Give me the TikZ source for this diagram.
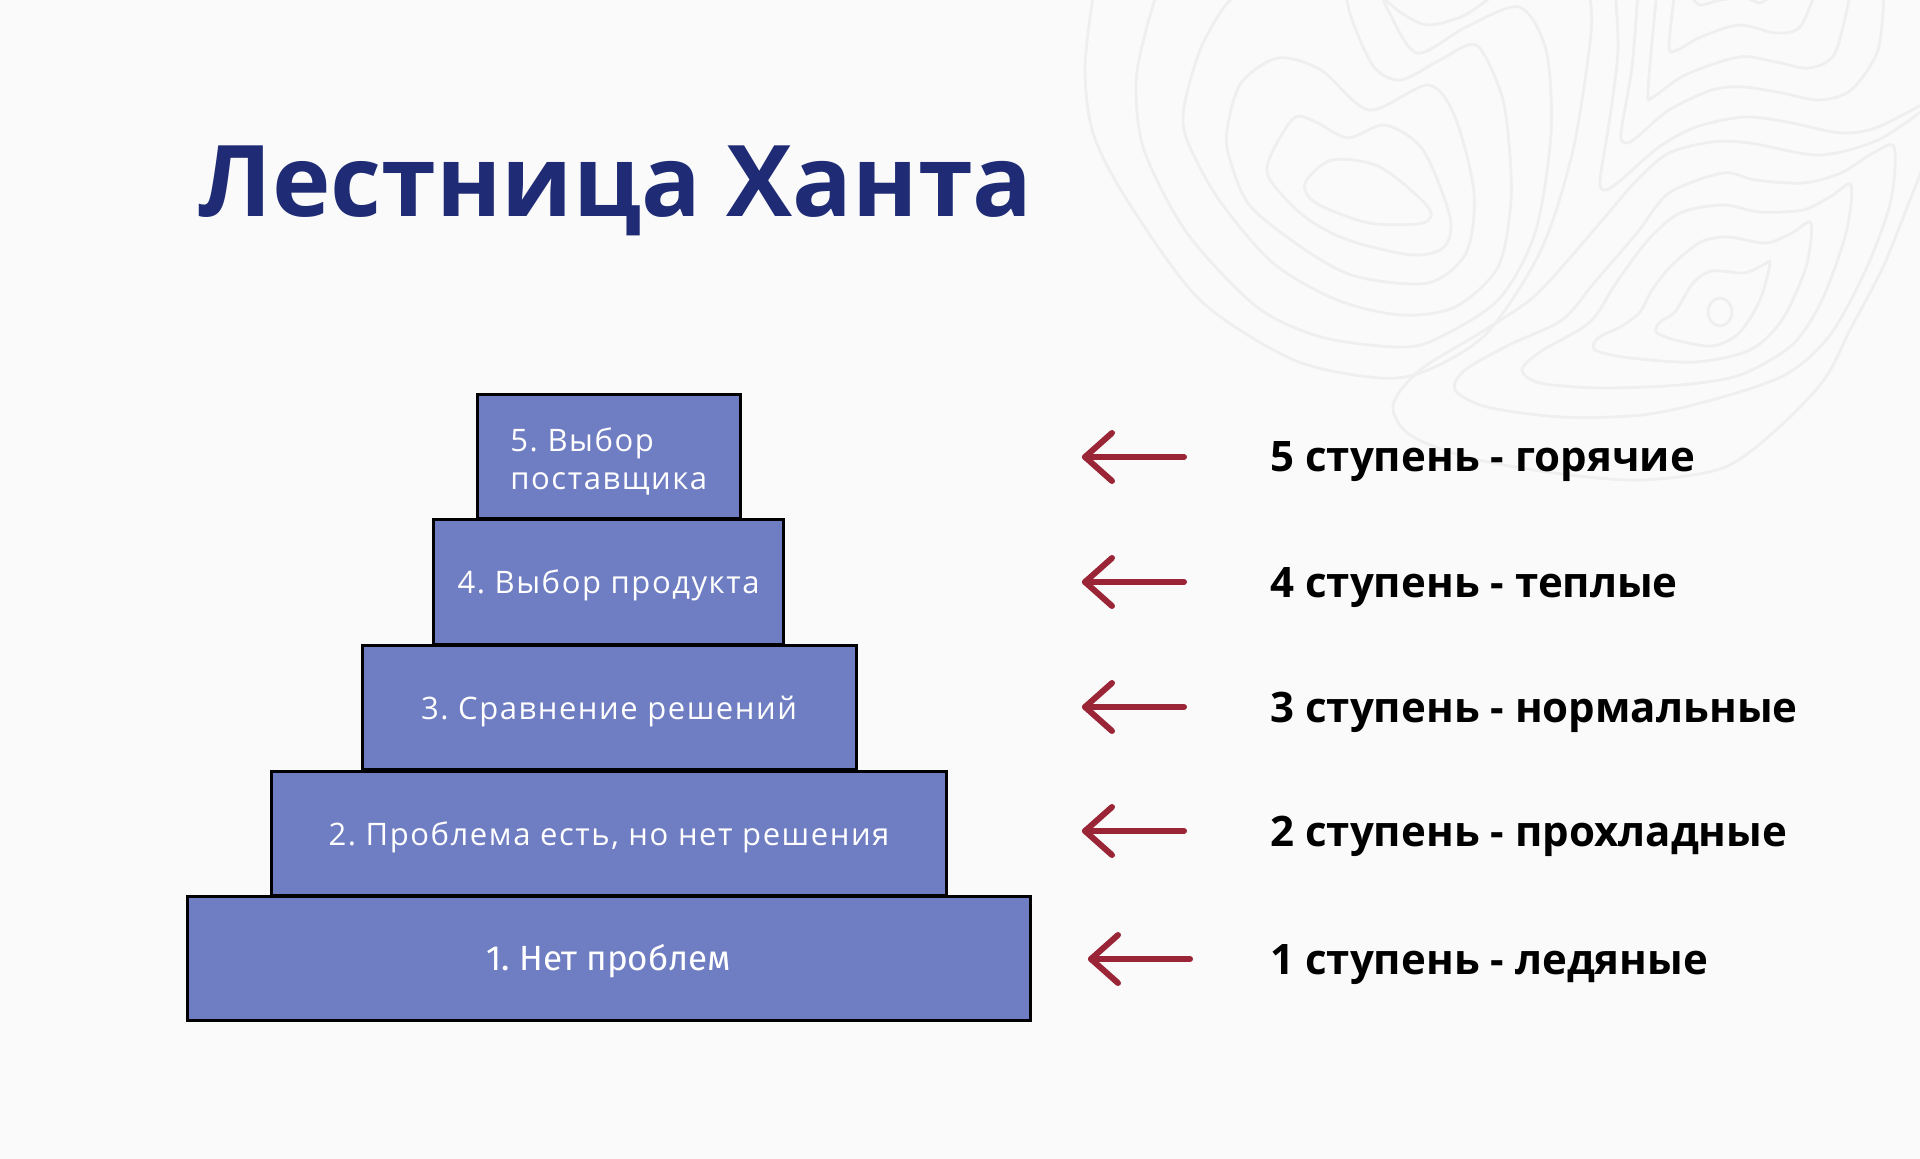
\documentclass[tikz,border=0pt]{standalone}
\usepackage{fontspec}
\setmainfont{Open Sans}
\newfontfamily\firafont{Fira Sans}
\newfontfamily\boxfam{Open Sans}[LetterSpace=5]
\usetikzlibrary{positioning}
\definecolor{bg}{HTML}{FAFAFA}
\definecolor{boxfill}{HTML}{6F7DC2}
\definecolor{navy}{HTML}{1F2B74}
\definecolor{arrowred}{HTML}{9A2537}
\definecolor{topocol}{HTML}{EFEFEF}
\newcommand{\boxfont}{\boxfam\fontsize{15.5}{19}\selectfont}
\newcommand{\lblfont}{\fontsize{21}{24}\selectfont\bfseries}
\frenchspacing
\begin{document}
\begin{tikzpicture}[x=0.5pt,y=-0.5pt,
  stepbox/.style={draw=black, line width=1.5pt, fill=boxfill, minimum height=62pt,
    inner sep=0pt, text=white, font=\boxfont, text height=13pt, text depth=1pt},
  lbl/.style={anchor=base west, font=\lblfont, text=black, inner sep=0pt},
  arr/.style={draw=arrowred, line width=3pt, line cap=round, line join=round},
  topo/.style={draw=topocol, line width=1.4pt}]
\useasboundingbox (0,0) rectangle (1920,1159);
\fill[bg] (0,0) rectangle (1920,1159);

% ---- topographic background ----
\draw[topo] plot[smooth cycle] coordinates {(1305,183) (1332,160) (1380,167) (1428,207) (1423,223) (1369,223) (1316,203)};
\draw[topo] plot[smooth cycle] coordinates {(1270,157) (1294,118) (1316,122) (1348,138) (1385,125) (1423,150) (1450,217) (1444,247) (1412,255) (1348,240) (1305,217) (1270,180)};
\draw[topo] plot[smooth cycle] coordinates {(1227,130) (1241,83) (1278,58) (1321,70) (1369,110) (1428,85) (1455,117) (1474,193) (1466,253) (1428,283) (1358,277) (1310,253) (1251,207) (1230,160)};
\draw[topo] plot[smooth] coordinates {(1345,-10) (1352,20) (1374,67) (1401,80) (1440,60) (1476,45) (1500,90) (1508,133) (1511,200) (1498,267) (1455,307) (1401,315) (1337,300) (1273,263) (1219,200) (1187,140) (1184,107) (1200,50) (1222,10) (1240,-10)};
\draw[topo] plot[smooth] coordinates {(1380,-10) (1388,10) (1417,53) (1466,27) (1519,7) (1546,50) (1551,133) (1535,233) (1498,300) (1434,340) (1396,347) (1321,337) (1257,307) (1187,233) (1144,150) (1136,83) (1146,30) (1158,-10)};
\draw[topo] plot[smooth] coordinates {(1375,-10) (1400,12) (1428,25) (1465,15) (1500,-10)};
\draw[topo] plot[smooth] coordinates {(1094,-10) (1085,67) (1093,133) (1127,200) (1200,300) (1294,360) (1380,378) (1428,370) (1487,333) (1541,250) (1573,150) (1591,33) (1589,-10)};
\draw[topo] plot[smooth] coordinates {(1615,-10) (1618,50) (1610,117) (1600,180) (1605,190) (1621,180) (1659,147) (1696,127) (1744,117) (1787,122) (1841,133) (1878,127) (1930,100)};
\draw[topo] plot[smooth] coordinates {(1638,-10) (1632,67) (1621,133) (1626,143) (1637,137) (1669,110) (1712,90) (1744,87) (1782,93) (1819,100) (1851,90) (1878,50) (1884,-10)};
\draw[topo] plot[smooth] coordinates {(1657,-10) (1648,90) (1653,97) (1685,75) (1739,57) (1776,62) (1809,68) (1835,53) (1851,-10)};
\draw[topo] plot[smooth] coordinates {(1675,-10) (1669,47) (1677,50) (1701,37) (1739,25) (1776,33) (1800,27) (1816,-10)};
\draw[topo] plot[smooth] coordinates {(1690,-5) (1700,5) (1720,0) (1745,-2) (1760,3) (1772,-5)};
\draw[topo] plot[smooth] coordinates {(1930,105) (1878,140) (1819,155) (1750,143) (1712,142) (1669,153) (1637,180) (1605,217) (1562,267) (1530,300) (1480,333) (1420,370) (1393,405) (1410,435) (1470,458) (1562,474) (1642,480) (1723,468) (1776,430) (1824,380) (1850,330) (1883,267) (1910,200) (1930,150)};
\draw[topo] plot[smooth cycle] coordinates {(1873,153) (1894,147) (1891,200) (1867,267) (1830,335) (1785,375) (1712,400) (1642,415) (1562,417) (1487,407) (1455,390) (1465,370) (1509,345) (1562,320) (1594,283) (1637,233) (1669,193) (1723,173) (1755,180) (1803,183) (1841,173)};
\draw[topo] plot[smooth cycle] coordinates {(1851,185) (1846,233) (1822,300) (1792,345) (1740,375) (1680,385) (1600,388) (1540,383) (1522,370) (1540,352) (1590,322) (1616,283) (1648,240) (1680,213) (1723,205) (1760,212) (1803,210) (1830,197)};
\draw[topo] plot[smooth cycle] coordinates {(1811,223) (1806,267) (1782,320) (1750,350) (1696,362) (1630,358) (1595,350) (1598,338) (1622,326) (1640,312) (1652,290) (1672,265) (1701,242) (1728,237) (1766,243) (1792,233)};
\draw[topo] plot[smooth cycle] coordinates {(1770,263) (1760,300) (1739,333) (1712,346) (1675,340) (1656,332) (1660,322) (1675,312) (1693,283) (1712,271) (1744,273) (1763,265)};
\draw[topo] (1720,312) ellipse [x radius=12, y radius=14];

% ---- title ----
\node[anchor=base west, inner sep=0pt, text=navy, font=\fontsize{49.5}{56}\selectfont\bfseries] (title) at (198,217) {Лестница Ханта};

% ---- steps ----
\node[stepbox, minimum width=131.5pt] (b5) at (608.5,457) {};
\node[anchor=west, inner sep=0pt, text=white, font=\boxfont, align=left] (b5t) at (510,461) {5. Выбор\\поставщика};
\node[stepbox, minimum width=175pt] (b4) at (608.6,582) {4. Выбор продукта};
\node[stepbox, minimum width=247pt] (b3) at (609,707) {3. Сравнение решений};
\node[stepbox, minimum width=337.5pt] (b2) at (609,833) {2. Проблема есть, но нет решения};
\node[stepbox, minimum width=421.5pt, font=\firafont\fontsize{17.5}{19}\selectfont] (b1) at (608.7,958) {1. Нет проблем};

% ---- arrows ----
\foreach \n/\yy/\tx in {5/457/1085, 4/582/1085, 3/707/1085, 2/831/1085, 1/959/1091}{
  \coordinate (t\n) at (\tx,\yy);
  \coordinate (s\n) at (\tx+99,\yy);
  \draw[arr] (s\n) -- (t\n);
  \draw[arr] ([shift={(27,-24)}]t\n) -- (t\n) -- ([shift={(27,24)}]t\n);
}

% ---- labels ----
\node[lbl] (l5) at (1270,472) {5 ступень - горячие};
\node[lbl] (l4) at (1270,597) {4 ступень - теплые};
\node[lbl] (l3) at (1270,722) {3 ступень - нормальные};
\node[lbl] (l2) at (1270,846) {2 ступень - прохладные};
\node[lbl] (l1) at (1270,974) {1 ступень - ледяные};
\end{tikzpicture}
\end{document}
